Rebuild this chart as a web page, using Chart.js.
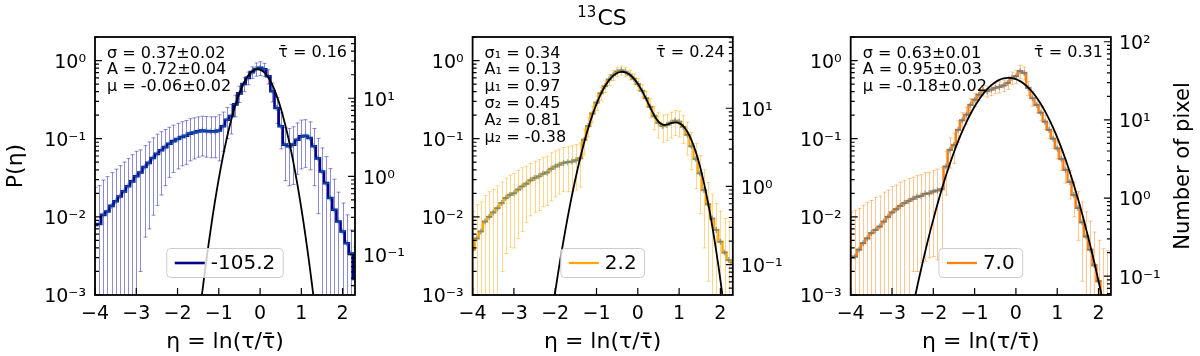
<!DOCTYPE html>
<html><head><meta charset="utf-8">
<script src="https://cdn.jsdelivr.net/npm/chart.js@4.4.1/dist/chart.umd.min.js"></script>
<style>
html,body{margin:0;padding:0;background:#fff;}
#wrap{position:relative;width:1200px;height:356px;background:#fff;}
#wrap canvas{position:absolute;left:0;top:0;}
</style></head><body>
<div id="wrap">
<canvas id="c1" width="1200" height="356"></canvas>
<canvas id="c2" width="1200" height="356"></canvas>
<canvas id="c3" width="1200" height="356"></canvas>
</div>
<script>
// ---------- DATA ----------
const etaBins = [-4.0,-3.9,-3.8,-3.7,-3.6,-3.5,-3.4,-3.3,-3.2,-3.1,-3.0,-2.9,-2.8,-2.7,-2.6,-2.5,-2.4,-2.3,-2.2,-2.1,
  -2.0,-1.9,-1.8,-1.7,-1.6,-1.5,-1.4,-1.3,-1.2,-1.1,-1.0,-0.9,-0.8,-0.7,-0.6,-0.5,-0.4,-0.3,-0.2,-0.1,
  0.0,0.1,0.2,0.3,0.4,0.5,0.6,0.7,0.8,0.9,1.0,1.1,1.2,1.3,1.4,1.5,1.6,1.7,1.8,1.9,2.0,2.1,2.2,2.3];

const p1Val = [0.0079,0.0081,0.0106,0.0117,0.0138,0.0158,0.0182,0.0212,0.0246,0.0284,
  0.033,0.037,0.0435,0.049,0.0565,0.064,0.071,0.078,0.086,0.093,
  0.099,0.105,0.109,0.116,0.12,0.124,0.127,0.125,0.124,0.124,
  0.127,0.144,0.175,0.195,0.275,0.38,0.5,0.6,0.71,0.78,
  0.805,0.77,0.63,0.405,0.247,0.144,0.084,0.08,0.084,0.097,
  0.107,0.109,0.102,0.08,0.056,0.038,0.027,0.0174,0.0123,0.0087,
  0.0065,0.0046,0.0034,0.0016];
const p1Err = [0.016,0.017,0.019,0.021,0.023,0.025,0.027,0.029,0.031,0.034,
  0.036,0.035,0.038,0.042,0.046,0.05,0.052,0.053,0.054,0.056,
  0.058,0.06,0.062,0.064,0.065,0.066,0.067,0.067,0.067,0.067,
  0.075,0.075,0.075,0.08,0.085,0.09,0.1,0.11,0.12,0.15,
  0.16,0.15,0.13,0.11,0.09,0.07,0.055,0.055,0.058,0.062,
  0.066,0.066,0.062,0.055,0.045,0.038,0.032,0.024,0.018,0.012,
  0.0085,0.006,0.0034,0.0025];

const p2Val = [0.0038,0.0053,0.0065,0.0087,0.0100,0.0114,0.0129,0.015,0.0174,0.0191,
  0.020,0.0223,0.0245,0.0265,0.0293,0.0314,0.033,0.0355,0.037,0.041,
  0.044,0.0465,0.049,0.050,0.051,0.053,0.056,0.097,0.145,0.21,
  0.29,0.38,0.47,0.57,0.65,0.72,0.75,0.72,0.66,0.585,
  0.50,0.41,0.33,0.255,0.195,0.16,0.145,0.15,0.16,0.17,
  0.165,0.142,0.112,0.08,0.055,0.036,0.022,0.0145,0.0095,0.0068,
  0.0048,0.0035,0.0028,0.0026];
const p2Err = [0.008,0.009,0.009,0.010,0.011,0.011,0.012,0.013,0.014,0.015,
  0.016,0.017,0.018,0.018,0.019,0.020,0.021,0.022,0.023,0.025,
  0.026,0.027,0.028,0.029,0.030,0.031,0.032,0.035,0.04,0.05,
  0.06,0.07,0.08,0.09,0.095,0.1,0.1,0.1,0.095,0.09,
  0.085,0.08,0.075,0.07,0.065,0.058,0.055,0.055,0.058,0.06,
  0.06,0.055,0.05,0.04,0.032,0.025,0.018,0.013,0.01,0.008,
  0.007,0.006,0.006,0.006];

const p3Val = [0.0030,0.0031,0.0038,0.0046,0.0053,0.0062,0.0068,0.0075,0.0087,0.0100,
  0.0114,0.0125,0.0138,0.015,0.016,0.017,0.018,0.0186,0.0197,0.020,
  0.0211,0.0218,0.0226,0.044,0.072,0.083,0.13,0.172,0.203,0.27,
  0.316,0.366,0.416,0.405,0.425,0.446,0.46,0.48,0.517,0.60,
  0.63,0.73,0.695,0.446,0.33,0.27,0.215,0.165,0.13,0.10,
  0.075,0.055,0.04,0.028,0.019,0.013,0.0085,0.0056,0.0038,0.0024,
  0.0015,0.0009,0.0007,0.0006];
const p3Err = [0.0085,0.009,0.009,0.0095,0.010,0.010,0.011,0.011,0.012,0.012,
  0.013,0.013,0.014,0.014,0.015,0.015,0.016,0.016,0.017,0.017,
  0.018,0.019,0.02,0.025,0.03,0.035,0.04,0.045,0.05,0.055,
  0.06,0.06,0.065,0.065,0.07,0.07,0.075,0.08,0.09,0.11,
  0.12,0.14,0.13,0.09,0.07,0.055,0.045,0.035,0.03,0.025,
  0.02,0.016,0.013,0.011,0.009,0.008,0.007,0.006,0.005,0.004,
  0.0035,0.003,0.003,0.003];

const fit1Eta = [-1.6,-1.5,-1.4,-1.3,-1.2,-1.1,-1.0,-0.9,-0.8,-0.7,-0.6,-0.5,-0.4,-0.3,-0.2,-0.1,
  0.0,0.1,0.2,0.3,0.4,0.5,0.6,0.7,0.8,0.9,1.0,1.1,1.2,1.3,1.4];
const fit1Val = [0.000134,0.0004,0.0011,0.00282,0.00673,0.01494,0.0308,0.059,0.105,0.1738,0.2675,0.3827,0.509,0.6288,0.7225,0.7715,
  0.766,0.7067,0.606,0.4834,0.358,0.2469,0.158,0.0941,0.0521,0.02678,0.0128,0.0057,0.00235,0.000903,0.00032];

const fit2Eta = [-2.2,-2.1,-2.0,-1.9,-1.8,-1.7,-1.6,-1.5,-1.4,-1.3,-1.2,-1.1,-1.0,-0.9,-0.8,-0.7,-0.6,-0.5,-0.4,-0.3,-0.2,-0.1,
  0.0,0.1,0.2,0.3,0.4,0.5,0.6,0.7,0.8,0.9,1.0,1.1,1.2,1.3,1.4,1.5,1.6,1.7,1.8,1.9,2.0,2.1,2.2];
const fit2Val = [0.0002,0.00048,0.0011,0.00239,0.00493,0.00972,0.0182,0.0324,0.055,0.0888,0.1365,0.1996,0.278,0.3683,0.4644,0.5576,0.637,0.6929,0.718,0.7067,0.6634,0.5927,
  0.505,0.4123,0.3246,0.2512,0.197,0.1648,0.1515,0.1516,0.1577,0.1619,0.1584,0.1449,0.1228,0.0959,0.0688,0.04525,0.0274,0.01522,0.00775,0.00362,0.00155,0.000608,0.00022];

const fit3Eta = [-2.6,-2.5,-2.4,-2.3,-2.2,-2.1,-2.0,-1.9,-1.8,-1.7,-1.6,-1.5,-1.4,-1.3,-1.2,-1.1,-1.0,-0.9,-0.8,-0.7,-0.6,-0.5,-0.4,-0.3,-0.2,-0.1,
  0.0,0.1,0.2,0.3,0.4,0.5,0.6,0.7,0.8,0.9,1.0,1.1,1.2,1.3,1.4,1.5,1.6,1.7,1.8,1.9,2.0,2.1,2.2];
const fit3Val = [0.000376,0.00068,0.00121,0.00209,0.00352,0.00579,0.00927,0.01448,0.0221,0.03275,0.0474,0.06702,0.0923,0.1239,0.1622,0.2071,0.2579,0.3131,0.3707,0.4279,0.4817,0.5288,0.566,0.5908,0.6014,0.5968,
  0.5776,0.545,0.5016,0.45,0.3938,0.336,0.2796,0.2268,0.1794,0.1384,0.1041,0.07635,0.0546,0.0381,0.0259,0.01718,0.01112,0.00701,0.00431,0.00259,0.00151,0.00086,0.000479];

const legendLabels = ['-105.2', '2.2', '7.0'];
const tauLabels = ['τ̄ = 0.16', 'τ̄ = 0.24', 'τ̄ = 0.31'];
const fitLabels1 = ['σ = 0.37±0.02', 'A = 0.72±0.04', 'μ = -0.06±0.02'];
const fitLabels2 = ['σ₁ = 0.34', 'A₁ = 0.13', 'μ₁ = 0.97', 'σ₂ = 0.45', 'A₂ = 0.81', 'μ₂ = -0.38'];
const fitLabels3 = ['σ = 0.63±0.01', 'A = 0.95±0.03', 'μ = -0.18±0.02'];

const xTickVals = [-4,-3,-2,-1,0,1,2];
const xTickLabels = ['\u22124','\u22123','\u22122','\u22121','0','1','2'];
const yTickVals = [0.001,0.01,0.1,1];
const yTickLabels = ['10⁻³','10⁻²','10⁻¹','10⁰'];
const y2TickVals = [0.1,1,10,100];
const y2TickLabels = ['10⁻¹','10⁰','10¹','10²'];
const yRange = [0.001, 2];
const xRange = [-4, 2.3];
const y2Ranges = [[0.0304, 60.8],[0.0408, 81.6],[0.0575, 115]];

const figTitleSup = '13';
const figTitleMain = 'CS';
const xTitle = 'η = ln(τ/τ̄)';
const yTitle = 'P(η)';
const y2Title = 'Number of pixel';

// ---------- DRAWING ----------
const FONT = "'DejaVu Sans', 'Noto Sans', sans-serif";

function logTickList(min, max) {
  const out = [];
  for (let e = Math.floor(Math.log10(min)); e <= Math.ceil(Math.log10(max)); e++) {
    for (let m = 1; m < 10; m++) {
      const v = m * Math.pow(10, e);
      if (v >= min * 0.9999 && v <= max * 1.0001) out.push({v: v, major: m === 1});
    }
  }
  return out;
}

function makeDeco(p) {
  return {
    id: 'deco' + p.idx,
    beforeDatasetsDraw(chart) {
      const {ctx, chartArea: a, scales: {x, y}} = chart;
      ctx.save();
      ctx.beginPath(); ctx.rect(a.left, a.top, a.right - a.left, a.bottom - a.top); ctx.clip();
      ctx.strokeStyle = p.errColor; ctx.lineWidth = 1;
      p.eta.forEach((e, i) => {
        const v = p.val[i], er = p.err[i];
        const px = Math.round(x.getPixelForValue(e)) + 0.5;
        const hi = y.getPixelForValue(v + er);
        const loOk = v - er > 0;
        const lo = loOk ? y.getPixelForValue(v - er) : a.bottom + 10;
        ctx.beginPath();
        ctx.moveTo(px, hi); ctx.lineTo(px, lo);
        ctx.moveTo(px - 2, hi); ctx.lineTo(px + 2, hi);
        if (loOk) { ctx.moveTo(px - 2, lo); ctx.lineTo(px + 2, lo); }
        ctx.stroke();
      });
      ctx.restore();
    },
    afterDraw(chart) {
      const {ctx, chartArea: a, scales: {x, y, y2}} = chart;
      ctx.save();
      // ticks (inward)
      ctx.strokeStyle = '#000'; ctx.lineWidth = 1.2;
      ctx.beginPath();
      xTickVals.forEach(v => { const px = x.getPixelForValue(v); ctx.moveTo(px, a.bottom); ctx.lineTo(px, a.bottom - 7); });
      logTickList(y.min, y.max).forEach(t => { const py = y.getPixelForValue(t.v); ctx.moveTo(a.left, py); ctx.lineTo(a.left + (t.major ? 7 : 4), py); });
      logTickList(y2.min, y2.max).forEach(t => { const py = y2.getPixelForValue(t.v); ctx.moveTo(a.right, py); ctx.lineTo(a.right - (t.major ? 7 : 4), py); });
      ctx.stroke();
      // frame
      ctx.lineWidth = 1.8;
      ctx.strokeRect(a.left, a.top, a.right - a.left, a.bottom - a.top);
      // fit parameter text
      ctx.fillStyle = '#000';
      ctx.font = '16px ' + FONT;
      ctx.textBaseline = 'middle';
      ctx.textAlign = 'left';
      p.fitText.forEach((t, i) => ctx.fillText(t, a.left + 12, a.top + 16.5 + i * 16.8));
      ctx.textAlign = 'right';
      ctx.fillText(p.tau, a.right - 8, a.top + 16);
      // legend
      ctx.font = '20px ' + FONT;
      const tw = ctx.measureText(p.label).width;
      const w = 8 + 30 + 6 + tw + 8, h = 29;
      const bx = (a.left + a.right) / 2 - w / 2, by = a.bottom - 17.5 - h;
      ctx.beginPath();
      if (ctx.roundRect) ctx.roundRect(bx, by, w, h, 4); else ctx.rect(bx, by, w, h);
      ctx.fillStyle = 'rgba(255,255,255,0.8)'; ctx.fill();
      ctx.strokeStyle = '#cccccc'; ctx.lineWidth = 1; ctx.stroke();
      ctx.beginPath(); ctx.strokeStyle = p.color; ctx.lineWidth = p.lw;
      ctx.moveTo(bx + 8, by + h / 2); ctx.lineTo(bx + 38, by + h / 2); ctx.stroke();
      ctx.fillStyle = '#000'; ctx.textAlign = 'left'; ctx.textBaseline = 'middle';
      ctx.fillText(p.label, bx + 44, by + h / 2 + 1);
      // figure title (above middle panel)
      if (p.title) {
        ctx.textBaseline = 'alphabetic';
        ctx.font = '22px ' + FONT;
        const wm = ctx.measureText(figTitleMain).width;
        ctx.font = '15px ' + FONT;
        const ws = ctx.measureText(figTitleSup).width;
        const x0 = 602 - (wm + ws + 1) / 2;
        ctx.textAlign = 'left';
        ctx.fillText(figTitleSup, x0, 16.5);
        ctx.font = '22px ' + FONT;
        ctx.fillText(figTitleMain, x0 + ws + 1, 25);
      }
      // right-axis title
      if (p.rightTitle) {
        ctx.font = '21px ' + FONT;
        ctx.textBaseline = 'middle';
        ctx.translate(1184, (a.top + a.bottom) / 2);
        ctx.rotate(-Math.PI / 2);
        ctx.textAlign = 'center';
        ctx.fillText(p.rightTitle, 0, 0);
      }
      ctx.restore();
    }
  };
}

const panels = [
  {idx: 1, id: 'c1', L: 95, R: 355, val: p1Val, err: p1Err, fitEta: fit1Eta, fitVal: fit1Val,
   color: '#00008b', lw: 2.6, errColor: 'rgba(0,0,160,0.45)', label: legendLabels[0], tau: tauLabels[0], fitText: fitLabels1,
   y2: y2Ranges[0], yTitle: yTitle, rightTitle: null, title: false},
  {idx: 2, id: 'c2', L: 472.6, R: 732.8, val: p2Val, err: p2Err, fitEta: fit2Eta, fitVal: fit2Val,
   color: '#ffa500', lw: 2.3, errColor: 'rgba(255,165,0,0.45)', label: legendLabels[1], tau: tauLabels[1], fitText: fitLabels2,
   y2: y2Ranges[1], yTitle: null, rightTitle: null, title: true},
  {idx: 3, id: 'c3', L: 850.7, R: 1110.9, val: p3Val, err: p3Err, fitEta: fit3Eta, fitVal: fit3Val,
   color: '#ff7f0e', lw: 2.3, errColor: 'rgba(255,127,14,0.45)', label: legendLabels[2], tau: tauLabels[2], fitText: fitLabels3,
   y2: y2Ranges[2], yTitle: null, rightTitle: y2Title, title: false}
];

panels.forEach(p => {
  p.eta = etaBins;
  const tickFont = {family: FONT, size: 19};
  new Chart(document.getElementById(p.id), {
    type: 'line',
    data: {
      datasets: [
        {label: 'fit', data: p.fitEta.map((e, i) => ({x: e, y: p.fitVal[i]})), borderColor: '#000', borderWidth: 1.8,
         pointRadius: 0, tension: 0.35, fill: false, order: 0},
        {label: p.label, data: etaBins.map((e, i) => ({x: e, y: p.val[i]})), stepped: 'middle', borderColor: p.color,
         borderWidth: p.lw, fill: false, pointStyle: 'cross', pointRadius: 3, pointBorderWidth: 1.5,
         pointBorderColor: 'rgba(31,119,180,0.55)', pointBackgroundColor: 'rgba(31,119,180,0.55)', order: 1}
      ]
    },
    options: {
      responsive: false, animation: false, devicePixelRatio: 1,
      layout: {padding: {left: 0, right: 0, top: 37, bottom: 0}},
      plugins: {legend: {display: false}, tooltip: {enabled: false}, title: {display: false}},
      scales: {
        x: {type: 'linear', min: xRange[0], max: xRange[1], position: 'bottom',
          grid: {display: false, drawTicks: false}, border: {display: false},
          afterBuildTicks: s => { s.ticks = xTickVals.map(v => ({value: v})); },
          ticks: {autoSkip: false, maxRotation: 0, padding: 8, color: '#000', font: tickFont,
            callback: (v, i) => xTickLabels[i]},
          title: {display: true, text: xTitle, color: '#000', font: {family: FONT, size: 22}, padding: {top: 0, bottom: 1}},
          afterFit: s => { s.height = 61; }},
        y: {type: 'logarithmic', min: yRange[0], max: yRange[1], position: 'left',
          grid: {display: false, drawTicks: false}, border: {display: false},
          afterBuildTicks: s => { s.ticks = yTickVals.filter(v => v >= s.min && v <= s.max).map(v => ({value: v})); },
          ticks: {padding: 9, labelOffset: 2.5, color: '#000', font: tickFont,
            callback: (v, i, t) => yTickLabels[yTickVals.indexOf(t[i].value)]},
          title: {display: !!p.yTitle, text: p.yTitle || '', color: '#000', font: {family: FONT, size: 22}, padding: {top: 3, bottom: 0}},
          afterFit: s => { s.width = p.L; }},
        y2: {type: 'logarithmic', min: p.y2[0], max: p.y2[1], position: 'right',
          grid: {display: false, drawTicks: false}, border: {display: false},
          afterBuildTicks: s => { s.ticks = y2TickVals.filter(v => v >= s.min && v <= s.max).map(v => ({value: v})); },
          ticks: {padding: 8, labelOffset: 2.5, color: '#000', font: tickFont,
            callback: (v, i, t) => y2TickLabels[y2TickVals.indexOf(t[i].value)]},
          afterFit: s => { s.width = 1200 - p.R; }}
      }
    },
    plugins: [makeDeco(p)]
  });
});
</script>
</body></html>
